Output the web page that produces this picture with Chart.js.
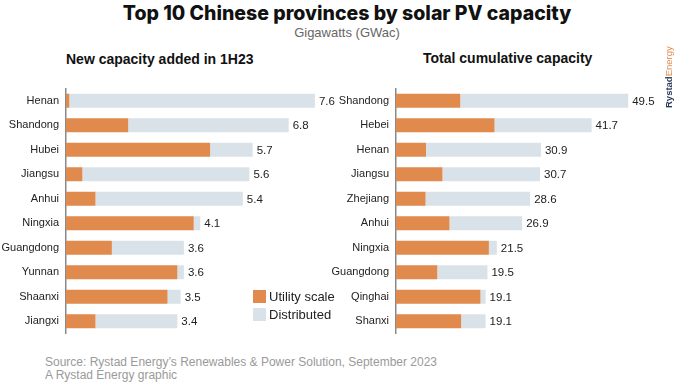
<!DOCTYPE html>
<html>
<head>
<meta charset="utf-8">
<script src="https://cdn.jsdelivr.net/npm/chart.js@4.4.0/dist/chart.umd.min.js"></script>
<style>
	body { margin: 0; width: 680px; height: 385px; background: #fff; position: relative; overflow: hidden; font-family: "Liberation Sans", Arial, sans-serif; }
	.title { position: absolute; top: 1px; left: 0; width: 694px; text-align: center; font-family: Inter, "Liberation Sans", sans-serif; font-size: 19.5px; font-weight: 800; color: #111; }
	.subtitle { position: absolute; top: 25px; left: 0; width: 694px; text-align: center; font-size: 13px; color: #666; }
	.panel-title { position: absolute; font-size: 14px; font-weight: bold; color: #111; }
	canvas { position: absolute; top: 75px; }
	.legend { position: absolute; left: 253px; font-size: 13px; color: #222; }
	.legend span { display: inline-block; width: 13px; height: 13px; vertical-align: -2px; margin-right: 3px; }
	.source { position: absolute; left: 45px; font-size: 12px; color: #9a9a9a; }
	.logo { position: absolute; left: 663px; top: 108px; transform: rotate(-90deg); transform-origin: 0 0; font-size: 9.5px; font-weight: bold; color: #2b3a5c; white-space: nowrap; }
	.logo b { color: #e08a4e; font-weight: normal; }
</style>
</head>
<body>
<div class="title">Top 10 Chinese provinces by solar PV capacity</div>
<div class="subtitle">Gigawatts (GWac)</div>
<div class="panel-title" style="left:66px; top:51px;">New capacity added in 1H23</div>
<div class="panel-title" style="left:423px; top:50px;">Total cumulative capacity</div>

<canvas id="newChart" width="340" height="272" style="left:0;"></canvas>
<canvas id="totalChart" width="340" height="272" style="left:330px;"></canvas>

<div class="legend" style="top:289px;"><span style="background:#e08a4e"></span>Utility scale</div>
<div class="legend" style="top:307px;"><span style="background:#dae2e9"></span>Distributed</div>

<div class="source" style="top:355px;">Source: Rystad Energy’s Renewables &amp; Power Solution, September 2023</div>
<div class="source" style="top:368px;">A Rystad Energy graphic</div>
<div class="logo">Rystad<b>Energy</b></div>

<script>
// Новые мощности, 1H23
const newLabels = ['Henan', 'Shandong', 'Hubei', 'Jiangsu', 'Anhui', 'Ningxia', 'Guangdong', 'Yunnan', 'Shaanxi', 'Jiangxi'];
const newUtility = [0.1, 1.9, 4.4, 0.5, 0.9, 3.9, 1.4, 3.4, 3.1, 0.9];
const newDistributed = [7.5, 4.9, 1.3, 5.1, 4.5, 0.2, 2.2, 0.2, 0.4, 2.5];
const newTotals = [7.6, 6.8, 5.7, 5.6, 5.4, 4.1, 3.6, 3.6, 3.5, 3.4];

// Накопленная мощность
const totalLabels = ['Shandong', 'Hebei', 'Henan', 'Jiangsu', 'Zhejiang', 'Anhui', 'Ningxia', 'Guangdong', 'Qinghai', 'Shanxi'];
const totalUtility = [13.7, 21.0, 6.4, 9.9, 6.3, 11.4, 19.8, 8.8, 18.0, 13.9];
const totalDistributed = [35.8, 20.7, 24.5, 20.8, 22.3, 15.5, 1.7, 10.7, 1.1, 5.2];
const totalTotals = [49.5, 41.7, 30.9, 30.7, 28.6, 26.9, 21.5, 19.5, 19.1, 19.1];

const ORANGE = '#e08a4e';
const GREY = '#dae2e9';
const FONT = '"Liberation Sans", Arial, sans-serif';

// Подписи итогов справа от столбцов
const totalsPlugin = {
	id: 'totalsLabels',
	afterDatasetsDraw(chart, args, opts) {
		const ctx = chart.ctx;
		const meta = chart.getDatasetMeta(1);
		ctx.save();
		ctx.font = `11.5px ${FONT}`;
		ctx.fillStyle = '#222';
		ctx.textBaseline = 'middle';
		meta.data.forEach((bar, i) => {
			ctx.fillText(opts.values[i].toFixed(1), bar.x + 4, bar.y + 1);
		});
		ctx.restore();
	}
};

function buildChart(canvasId, labels, utility, distributed, totals, max, padRight) {
	const ctx = document.getElementById(canvasId).getContext('2d');
	return new Chart(ctx, {
		type: 'bar',
		data: {
			labels: labels,
			datasets: [
				{ label: 'Utility scale', data: utility, backgroundColor: ORANGE },
				{ label: 'Distributed', data: distributed, backgroundColor: GREY }
			]
		},
		options: {
			indexAxis: 'y',
			responsive: false,
			animation: false,
			devicePixelRatio: 1,
			barPercentage: 0.57,
			categoryPercentage: 1,
			layout: { padding: { top: 4, bottom: 2, left: 0, right: padRight } },
			plugins: {
				legend: { display: false },
				tooltip: { enabled: false },
				totalsLabels: { values: totals }
			},
			scales: {
				x: {
					stacked: true,
					min: 0,
					max: max,
					display: false
				},
				y: {
					stacked: true,
					grid: { display: false, drawTicks: false },
					border: { display: true, color: '#8a8a8a', width: 1.5 },
					ticks: {
						color: '#222',
						padding: 7,
						font: { family: FONT, size: 11 }
					},
					afterFit: (scale) => { scale.width = 66; }
				}
			}
		},
		plugins: [totalsPlugin]
	});
}

buildChart('newChart', newLabels, newUtility, newDistributed, newTotals, 8, 12);
buildChart('totalChart', totalLabels, totalUtility, totalDistributed, totalTotals, 55, 16);
</script>
</body>
</html>
